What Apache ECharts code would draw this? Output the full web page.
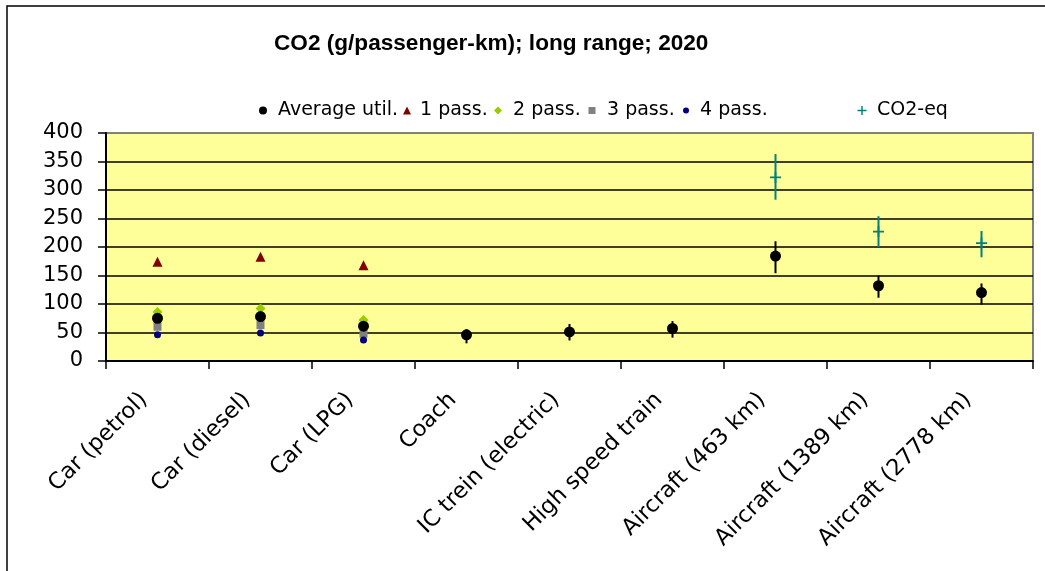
<!DOCTYPE html>
<html>
<head>
<meta charset="utf-8">
<script src="https://cdn.jsdelivr.net/npm/echarts@6/dist/echarts.min.js"></script>
<style>
html,body{margin:0;padding:0;background:#fff;}
#chart{width:1045px;height:571px;}
</style>
</head>
<body>
<div id="chart"></div>
<script>
// ---- data ----
const categories = ['Car (petrol)', 'Car (diesel)', 'Car (LPG)', 'Coach', 'IC trein (electric)', 'High speed train', 'Aircraft (463 km)', 'Aircraft (1389 km)', 'Aircraft (2778 km)'];
const avgUtil  = [75, 78, 61, 46, 51, 57, 184, 132, 120];
const avgLow   = [null, null, null, 31, 36, 41, 154, 111, 99];
const avgHigh  = [null, null, null, 56, 65, 70, 210, 150, 136];
const pass1    = [174, 183, 168, null, null, null, null, null, null];
const pass2    = [86, 92, 72, null, null, null, null, null, null];
const pass3    = [60, 63, 48, null, null, null, null, null, null];
const pass4    = [46, 49, 37, null, null, null, null, null, null];
const co2eq    = [null, null, null, null, null, null, 322, 227, 207];
const co2Low   = [null, null, null, null, null, null, 283, 200, 182];
const co2High  = [null, null, null, null, null, null, 363, 254, 228];
const yTicks   = {min: 0, max: 400, interval: 50};
const titleText = 'CO2 (g/passenger-km); long range; 2020';
const seriesNames = ['Average util.', '1 pass.', '2 pass.', '3 pass.', '4 pass.', 'CO2-eq'];

const FONT = 'DejaVu Sans';
const crossPath = 'path://M4.2,0h1.6v4.2h4.2v1.6h-4.2v4.2h-1.6v-4.2h-4.2v-1.6h4.2z';

function pts(arr) { return arr.map((v, i) => v == null ? null : [i, v]).filter(d => d); }
function bars(lo, hi) {
  const out = [];
  lo.forEach((v, i) => { if (v != null && hi[i] != null) out.push([i, v, hi[i]]); });
  return out;
}
function errRender(color) {
  return function (params, api) {
    const p1 = api.coord([api.value(0), api.value(1)]);
    const p2 = api.coord([api.value(0), api.value(2)]);
    return {
      type: 'line',
      shape: {x1: p1[0], y1: p1[1], x2: p2[0], y2: p2[1]},
      style: {stroke: color, lineWidth: 2}
    };
  };
}

const legendX = [263, 407, 498, 592, 686, 862];
const legendTextGap = [15, 13, 15, 15, 14, 15];
const legendSize = [8, 8, 8, 7, 6, 9];
const legends = seriesNames.map((n, i) => ({
  data: [n],
  left: legendX[i] - legendSize[i] / 2,
  top: 101,
  padding: 0,
  itemWidth: legendSize[i],
  itemHeight: legendSize[i],
  itemGap: 0,
  selectedMode: false,
  textStyle: {fontFamily: FONT, fontSize: 19, color: '#000', padding: [0, 0, 0, Math.max(0, legendTextGap[i] - legendSize[i] / 2 - 5)]}
}));

const chart = echarts.init(document.getElementById('chart'));
chart.setOption({
  animation: false,
  backgroundColor: '#fff',
  title: {
    text: titleText,
    left: 269,
    top: 27,
    textStyle: {fontFamily: 'Liberation Sans', fontWeight: 'bold', fontSize: 22.6, color: '#000'}
  },
  graphic: [{
    type: 'rect', silent: true, z: -10,
    shape: {x: 7, y: 6, width: 1200, height: 800},
    style: {fill: 'none', stroke: '#000', lineWidth: 1.5}
  }],
  legend: legends,
  grid: {
    left: 106, top: 133, width: 927, height: 228,
    show: true, backgroundColor: '#FFFF99', borderColor: '#808080', borderWidth: 2
  },
  xAxis: {
    type: 'category',
    data: categories,
    boundaryGap: true,
    axisLine: {lineStyle: {color: '#000', width: 2}},
    axisTick: {show: true, interval: 0, length: 8, lineStyle: {color: '#000', width: 1.5}},
    axisLabel: {
      interval: 0, rotate: 45, margin: 22, padding: [0, 19, 0, 0],
      fontFamily: FONT, fontSize: 22.5, color: '#000'
    },
    splitLine: {show: false}
  },
  yAxis: {
    type: 'value',
    min: yTicks.min, max: yTicks.max, interval: yTicks.interval,
    axisLine: {show: true, lineStyle: {color: '#000', width: 2}},
    axisTick: {show: true, length: 8, lineStyle: {color: '#000', width: 1.5}},
    axisLabel: {margin: 23, fontFamily: FONT, fontSize: 21, color: '#000'},
    splitLine: {show: true, showMaxLine: false, lineStyle: {color: '#000', width: 1.5}}
  },
  series: [
    {type: 'custom', name: 'errAvg', renderItem: errRender('#000'), data: bars(avgLow, avgHigh), z: 3, silent: true},
    {type: 'custom', name: 'errCo2', renderItem: errRender('#008080'), data: bars(co2Low, co2High), z: 3, silent: true},
    {type: 'scatter', name: seriesNames[1], data: pts(pass1), symbol: 'triangle', symbolSize: 10, symbolKeepAspect: true, itemStyle: {color: '#800000', opacity: 1}, z: 4},
    {type: 'scatter', name: seriesNames[2], data: pts(pass2), symbol: 'diamond', symbolSize: 10, symbolKeepAspect: true, itemStyle: {color: '#99CC00', opacity: 1}, z: 4},
    {type: 'scatter', name: seriesNames[3], data: pts(pass3), symbol: 'rect', symbolSize: 8, symbolKeepAspect: true, itemStyle: {color: '#808080', opacity: 1}, z: 4},
    {type: 'scatter', name: seriesNames[4], data: pts(pass4), symbol: 'circle', symbolSize: 7, symbolKeepAspect: true, itemStyle: {color: '#000080', opacity: 1}, z: 4},
    {type: 'scatter', name: seriesNames[0], data: pts(avgUtil), symbol: 'circle', symbolSize: 11, symbolKeepAspect: true, itemStyle: {color: '#000', opacity: 1}, z: 5},
    {type: 'scatter', name: seriesNames[5], data: pts(co2eq), symbol: crossPath, symbolSize: 11, symbolKeepAspect: true, itemStyle: {color: '#008080', opacity: 1}, z: 5}
  ]
});
</script>
</body>
</html>
